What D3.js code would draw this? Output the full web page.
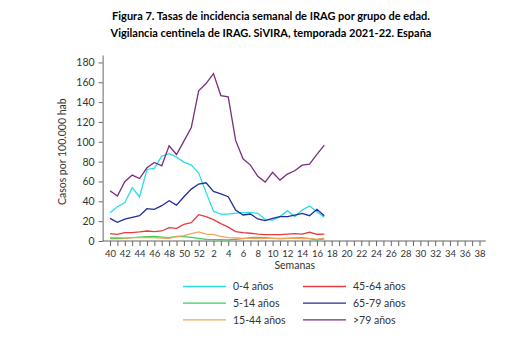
<!DOCTYPE html>
<html>
<head>
<meta charset="utf-8">
<script src="https://cdn.jsdelivr.net/npm/d3@7"></script>
<style>
  body { margin: 0; background: #fff; }
  text { font-family: Lato, "Open Sans", sans-serif; }
</style>
</head>
<body>
<div id="chart"></div>
<script>
// axis weeks of the season (week 40 of 2021 to week 38 of 2022)
const weeks = [40, 41, 42, 43, 44, 45, 46, 47, 48, 49, 50, 51, 52,
  1, 2, 3, 4, 5, 6, 7, 8, 9, 10, 11, 12, 13, 14, 15, 16, 17, 18, 19, 20,
  21, 22, 23, 24, 25, 26, 27, 28, 29, 30, 31, 32, 33, 34, 35, 36, 37, 38];
// weeks with data (40 .. 17)
const dataWeeks = [40, 41, 42, 43, 44, 45, 46, 47, 48, 49, 50, 51, 52,
  1, 2, 3, 4, 5, 6, 7, 8, 9, 10, 11, 12, 13, 14, 15, 16, 17];

const ages0_4 = [28.5, 34.6, 38.6, 53.7, 44.6, 72.1, 73.2, 85.6, 88, 84.5, 79.5, 76.5, 68.5,
  49, 30, 27, 27, 28, 28.6, 28.9, 27.9, 21.9, 21.1, 24.6, 30.6, 24.6, 31.2, 35.2, 29.6, 23.9];
const ages5_14 = [2.4, 2.4, 2.7, 3.4, 4, 4.4, 4.7, 4, 3.4, 4.7, 4.4, 3.7, 2.7,
  1.7, 1.4, 1.3, 1.2, 1.7, 2.4, 3.4, 3.7, 3.4, 2.7, 2.4, 2.7, 3, 3.4, 2.4, 1, 2.2];
const ages15_44 = [3.4, 3.4, 3, 3.4, 3.4, 3.7, 3.4, 3, 2.7, 4.4, 5.4, 7.4, 9.1,
  7, 6.4, 4.7, 3.4, 3, 2.7, 2.6, 2.5, 2.7, 2.8, 2.5, 2.6, 2.7, 2.5, 2.4, 1.8, 3];
const ages45_64 = [7.4, 6.7, 8.4, 8.4, 9.1, 10.1, 9.4, 10.1, 13.4, 12.8, 16.8, 18.5, 26.5,
  24.5, 21.5, 17.5, 14, 9.5, 8.5, 7.8, 7, 6.5, 6.5, 6.5, 7, 7.5, 7, 8.8, 6.8, 7];
const ages65_79 = [22.8, 18.8, 22.1, 23.8, 25.5, 32.6, 31.9, 35.6, 40.6, 36.2, 44.6, 52.3, 57.4,
  58.7, 50, 47.5, 44.6, 31.2, 26.2, 27.2, 22.2, 20.5, 22.8, 24.5, 24.5, 26.2, 27.9, 25.5, 31.9, 25.5];
const ages80 = [50.7, 45.3, 59.7, 66.4, 63, 73.8, 79.2, 75.8, 96, 87.2, 100.7, 114.4, 151.3,
  158.7, 168.8, 146.6, 145.3, 101.4, 82.8, 76.5, 65.2, 59.4, 69.2, 61.4, 67.5, 70.8, 76.5, 77.5, 87.3, 96.7];

const seriesNames = ["0-4 años", "5-14 años", "15-44 años", "45-64 años", "65-79 años", ">79 años"];
const seriesValues = [ages0_4, ages5_14, ages15_44, ages45_64, ages65_79, ages80];
const seriesColors = ["#2bdde4", "#3ccf55", "#f2a45c", "#e63c40", "#1d2ea0", "#7a2d7e"];
const yTicks = [0, 20, 40, 60, 80, 100, 120, 140, 160, 180];

const width = 513;
const height = 352;

const svg = d3.select("#chart")
  .append("svg")
  .attr("width", width)
  .attr("height", height);

// title
const title = svg.append("text")
  .attr("text-anchor", "middle")
  .attr("font-weight", "bold")
  .attr("font-size", "11px")
  .attr("fill", "#000");
title.append("tspan").attr("x", 271).attr("y", 20)
  .text("Figura 7. Tasas de incidencia semanal de IRAG por grupo de edad.");
title.append("tspan").attr("x", 271).attr("y", 37)
  .text("Vigilancia centinela de IRAG. SiVIRA, temporada 2021-22. España");

const x = d3.scalePoint()
  .domain(weeks)
  .range([110, 479.5]);
const step = x.step();

const y = d3.scaleLinear()
  .domain([0, 187.5])
  .range([241, 55]);

// y axis
const yAxis = svg.append("g")
  .attr("transform", `translate(${x(40) - step}, 0)`)
  .call(d3.axisLeft(y).tickValues(yTicks).tickSize(4).tickPadding(4).tickSizeOuter(0));
yAxis.selectAll("text").attr("font-size", "10.5px").attr("fill", "#333");
yAxis.selectAll("line, path").attr("stroke", "#666");

svg.append("text")
  .attr("transform", `translate(66, ${y(90)}) rotate(-90)`)
  .attr("text-anchor", "middle")
  .attr("font-size", "10.5px")
  .attr("fill", "#333")
  .text("Casos por 100.000 hab");

// x axis
const xAxis = svg.append("g")
  .attr("transform", `translate(0, ${y(0)})`)
  .call(d3.axisBottom(x).tickValues(weeks).tickSize(5).tickPadding(4)
    .tickFormat(d => d % 2 === 0 ? d : ""));
xAxis.select(".domain").remove();
xAxis.append("line")
  .attr("x1", x(40) - step)
  .attr("x2", x(38) + step * 0.85)
  .attr("stroke", "#666");
xAxis.selectAll("text").attr("font-size", "9.5px").attr("fill", "#333");
xAxis.selectAll(".tick line").attr("stroke", "#666");

svg.append("text")
  .attr("x", (x(40) - step + x(38) + step) / 2)
  .attr("y", 269)
  .attr("text-anchor", "middle")
  .attr("font-size", "10.5px")
  .attr("fill", "#333")
  .text("Semanas");

// lines
const line = d3.line()
  .x((d, i) => x(dataWeeks[i]))
  .y(d => y(d));

svg.selectAll(".serie")
  .data(seriesValues)
  .enter()
  .append("path")
  .attr("class", "serie")
  .attr("d", d => line(d))
  .attr("fill", "none")
  .attr("stroke", (d, i) => seriesColors[i])
  .attr("stroke-width", 1.3);

// legend
const legend = svg.selectAll(".leg")
  .data(seriesNames)
  .enter()
  .append("g")
  .attr("class", "leg")
  .attr("transform", (d, i) => `translate(${i < 3 ? 183 : 303}, ${286.5 + (i % 3) * 16.7})`);
legend.append("line")
  .attr("x1", 0)
  .attr("x2", 43)
  .attr("stroke", (d, i) => seriesColors[i])
  .attr("stroke-width", 1.3);
legend.append("text")
  .attr("x", 50)
  .attr("dy", "0.35em")
  .attr("font-size", "10.5px")
  .attr("fill", "#333")
  .text(d => d);
</script>
</body>
</html>
